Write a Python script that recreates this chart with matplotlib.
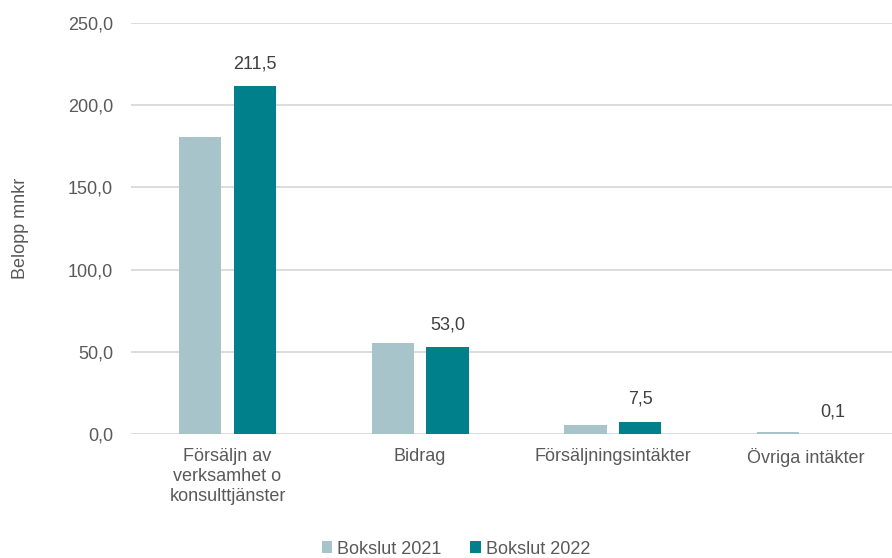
import numpy as np
import matplotlib.pyplot as plt

categories = ["Försäljn av\nverksamhet o\nkonsulttjänster", "Bidrag", "Försäljningsintäkter", "Övriga intäkter"]
bokslut_2021 = [180.6, 55.5, 5.6, 1.5]
bokslut_2022 = [211.5, 53.0, 7.5, 0.1]
yticks = [0, 50, 100, 150, 200, 250]

c2021 = "#A7C4CA"
c2022 = "#00808A"
txt = "#595959"
fs = 13

plt.rcParams['font.family'] = ['Liberation Sans', 'DejaVu Sans']

fig = plt.figure(figsize=(8.92, 5.58), dpi=100)
ax = fig.add_axes([0.147, 0.222, 0.864, 0.737])

x = np.arange(len(categories))
w = 0.22
ax.bar(x - 0.142, bokslut_2021, w, color=c2021, label="Bokslut 2021", zorder=3)
b2 = ax.bar(x + 0.142, bokslut_2022, w, color=c2022, label="Bokslut 2022", zorder=3)

# data labels only on 2022
for rect, v in zip(b2, bokslut_2022):
    ax.annotate(f"{v:.1f}".replace(".", ","), (rect.get_x() + rect.get_width() / 2, v),
                xytext=(0, 10), textcoords="offset points", ha="center", va="bottom",
                fontsize=fs, color="#404040")

ax.set_xlim(-0.5, 3.5)
ax.set_ylim(0, 250)
ax.set_yticks(yticks)
ax.set_yticklabels([f"{t:.1f}".replace(".", ",") for t in yticks])
ax.set_xticks(x)
ax.set_xticklabels(categories, linespacing=1.22)
ax.tick_params(axis="both", length=0, colors=txt, labelsize=fs)
ax.tick_params(axis="y", pad=13)
ax.tick_params(axis="x", pad=10)
ax.yaxis.grid(True, color="#D9D9D9", linewidth=1.3, zorder=0)
for s in ax.spines.values():
    s.set_visible(False)
ax.set_ylabel("Belopp mnkr", color=txt, fontsize=fs, labelpad=28)

fig.legend(loc="center", bbox_to_anchor=(0.511, 0.016), ncol=2, frameon=False,
           fontsize=fs, labelcolor=txt, handlelength=0.6, handleheight=0.6,
           handletextpad=0.25, columnspacing=1.6)

fig.savefig("out.png", dpi=100)
